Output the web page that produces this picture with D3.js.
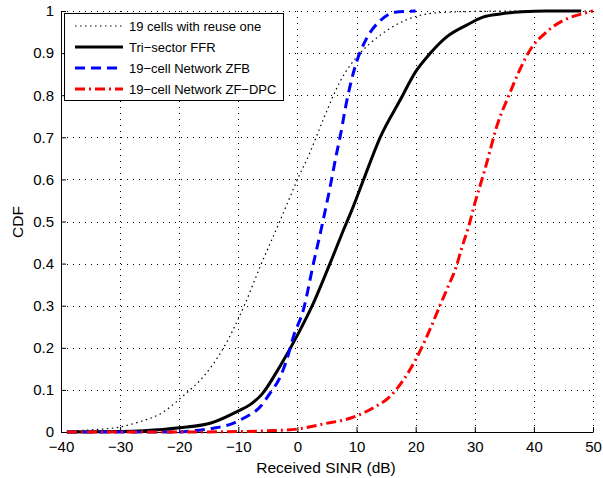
<!DOCTYPE html>
<html>
<head>
<meta charset="utf-8">
<script src="https://cdn.jsdelivr.net/npm/d3@7"></script>
<style>
  body { margin: 0; background: #fff; }
  text { font-family: "Liberation Sans", Arial, Helvetica, sans-serif; fill: #000; }
</style>
</head>
<body>
<script>
// data (SINR in dB, CDF)
var reuseX = [-39, -35, -30, -27, -23, -19, -16, -12.5, -9, -6.3, -3, -1.5, 0, 2, 4.3, 7.2, 10.6, 12.3, 15.7, 20.8, 25, 30, 40, 50];
var reuseY = [0.002, 0.005, 0.012, 0.023, 0.045, 0.09, 0.13, 0.2, 0.3, 0.393, 0.5, 0.55, 0.6, 0.66, 0.74, 0.832, 0.9, 0.923, 0.959, 0.99, 0.997, 0.999, 1, 1];

var ffrX = [-39, -30, -26, -20, -14.5, -10, -8, -6, -3, 0, 2.5, 5.5, 8, 9.2, 11.2, 14, 17.4, 20, 22.5, 25.3, 28.7, 31.5, 34.3, 38, 42, 48];
var ffrY = [0, 0.001, 0.003, 0.01, 0.022, 0.05, 0.065, 0.09, 0.155, 0.23, 0.3, 0.4, 0.487, 0.527, 0.6, 0.7, 0.789, 0.856, 0.9, 0.939, 0.967, 0.986, 0.993, 0.998, 1, 1];

var zfbX = [-39, -20, -17.6, -14.2, -11, -9.2, -6.3, -4.6, -2.9, -1.8, -0.7, 1, 2.7, 4.1, 5.5, 6.6, 7.2, 8.4, 9.8, 11.7, 14, 16.5, 20];
var zfbY = [0, 0, 0.003, 0.009, 0.02, 0.032, 0.06, 0.093, 0.131, 0.172, 0.226, 0.29, 0.4, 0.487, 0.58, 0.66, 0.7, 0.79, 0.87, 0.935, 0.977, 0.997, 1];

var dpcX = [-39, -20, -10, -5, 0, 4, 10, 12.9, 15.7, 18, 20, 22.4, 24.1, 25.5, 26.9, 27.7, 29, 30, 31, 32, 33.7, 35.9, 37.6, 39.3, 42.1, 44.9, 48.6, 50];
var dpcY = [0, 0, 0.001, 0.003, 0.007, 0.018, 0.038, 0.058, 0.085, 0.125, 0.172, 0.243, 0.3, 0.346, 0.394, 0.433, 0.49, 0.543, 0.59, 0.638, 0.725, 0.804, 0.86, 0.906, 0.95, 0.977, 0.995, 1];

var legendNames = ["19 cells with reuse one", "Tri\u2212sector FFR", "19\u2212cell Network ZFB", "19\u2212cell Network ZF\u2212DPC"];
var xTicks = [-40, -30, -20, -10, 0, 10, 20, 30, 40, 50];
var yTicks = [0, 0.1, 0.2, 0.3, 0.4, 0.5, 0.6, 0.7, 0.8, 0.9, 1];

var series = [
  {name: legendNames[0], xs: reuseX, ys: reuseY, color: "#000", width: 1.2, dash: "1.5,3.5"},
  {name: legendNames[1], xs: ffrX, ys: ffrY, color: "#000", width: 3, dash: null},
  {name: legendNames[2], xs: zfbX, ys: zfbY, color: "#0000ff", width: 3, dash: "10,6"},
  {name: legendNames[3], xs: dpcX, ys: dpcY, color: "#ff0000", width: 3, dash: "10,4,2,4"}
];

var W = 603, H = 478;
var plotLeft = 61, plotRight = 593, plotTop = 11, plotBottom = 432;

var svg = d3.select("body")
  .append("svg")
  .attr("width", W)
  .attr("height", H);

var x = d3.scaleLinear().domain([-40, 50]).range([plotLeft, plotRight]);
var y = d3.scaleLinear().domain([0, 1]).range([plotBottom, plotTop]);

// grid
var grid = svg.append("g");
grid.selectAll(".gx")
  .data(xTicks)
  .enter().append("line")
  .attr("x1", function(d){ return Math.round(x(d)) + 0.5; })
  .attr("x2", function(d){ return Math.round(x(d)) + 0.5; })
  .attr("y1", plotBottom)
  .attr("y2", plotTop)
  .attr("stroke", "#000")
  .attr("stroke-width", 1)
  .attr("stroke-dasharray", "1,5");
grid.selectAll(".gy")
  .data(yTicks)
  .enter().append("line")
  .attr("x1", plotLeft)
  .attr("x2", plotRight)
  .attr("y1", function(d){ return Math.round(y(d)) + 0.5; })
  .attr("y2", function(d){ return Math.round(y(d)) + 0.5; })
  .attr("stroke", "#000")
  .attr("stroke-width", 1)
  .attr("stroke-dasharray", "1,5");

// axes
var xAxis = d3.axisBottom(x).tickValues(xTicks).tickSizeInner(-5).tickSizeOuter(0).tickPadding(9);
var yAxis = d3.axisLeft(y).tickValues(yTicks).tickSizeInner(-5).tickSizeOuter(0).tickPadding(7)
  .tickFormat(function(d){ return d === 0 || d === 1 ? String(d) : d3.format(".1f")(d); });

var gx = svg.append("g")
  .attr("transform", "translate(0," + plotBottom + ")")
  .call(xAxis);
var gy = svg.append("g")
  .attr("transform", "translate(" + plotLeft + ",0)")
  .call(yAxis);

[gx, gy].forEach(function(g){
  g.selectAll("text").style("font-size", "15px").attr("fill", "#000");
  g.select(".domain").attr("stroke", "#000");
  g.selectAll(".tick line").attr("stroke", "#000");
});

// curves
var line = d3.line()
  .x(function(d){ return x(d[0]); })
  .y(function(d){ return y(d[1]); })
  .curve(d3.curveMonotoneX);

series.forEach(function(s){
  var pts = s.xs.map(function(v, i){ return [v, s.ys[i]]; });
  svg.append("path")
    .datum(pts)
    .attr("d", line)
    .attr("fill", "none")
    .attr("stroke", s.color)
    .attr("stroke-width", s.width)
    .attr("stroke-dasharray", s.dash);
});

// labels
svg.append("text")
  .attr("x", 326)
  .attr("y", 473)
  .attr("text-anchor", "middle")
  .style("font-size", "15.5px")
  .text("Received SINR (dB)");

svg.append("text")
  .attr("transform", "translate(23,222) rotate(-90)")
  .attr("text-anchor", "middle")
  .style("font-size", "15.5px")
  .text("CDF");

// legend
var lg = svg.append("g");
lg.append("rect")
  .attr("x", 64.5)
  .attr("y", 13.5)
  .attr("width", 219)
  .attr("height", 87)
  .attr("fill", "#fff")
  .attr("stroke", "#000")
  .attr("stroke-width", 1);

series.forEach(function(s, i){
  var ly = 26 + i * 21;
  lg.append("line")
    .attr("x1", 75)
    .attr("x2", 123)
    .attr("y1", ly)
    .attr("y2", ly)
    .attr("stroke", s.color)
    .attr("stroke-width", s.width)
    .attr("stroke-dasharray", s.dash);
  lg.append("text")
    .attr("x", 129)
    .attr("y", ly + 4.5)
    .style("font-size", "13px")
    .text(s.name);
});
</script>
</body>
</html>
